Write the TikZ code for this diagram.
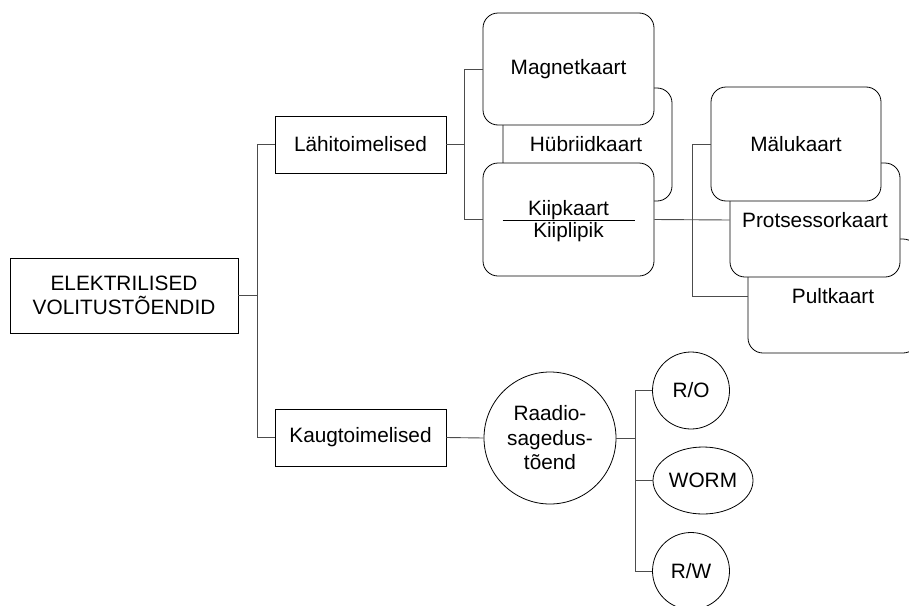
\documentclass[tikz,border=0pt]{standalone}
\usepackage{fontspec}
\setmainfont{Liberation Sans}
\usetikzlibrary{shapes.geometric,calc}
\begin{document}
\begin{tikzpicture}[x=1pt,y=-1pt,
  every node/.style={font=\fontsize{20.8}{24.5}\selectfont, inner sep=0pt, align=center},
  box/.style={draw, line width=0.8pt, fill=white},
  card/.style={box, rounded corners=15pt, minimum width=171pt, minimum height=113pt},
  rect/.style={box, minimum width=171pt, minimum height=57pt},
  disc/.style={box, circle},
  link/.style={draw=black!70, line width=0.9pt}]
\clip (0,0) rectangle (909,605);

% root and first level
\node[box, minimum width=228pt, minimum height=75pt] (root) at (124,295.5) {ELEKTRILISED\\VOLITUSTÕENDID};
\node[rect] (lahi) at (360.5,144.5) {Lähitoimelised};
\node[rect] (kaug) at (360.5,437.5) {Kaugtoimelised};

% contact cards
\node[card, minimum width=169pt] (hybrid) at (587.5,144.5) {\hspace*{-3pt}Hübriidkaart};
\node[card, minimum height=112pt] (magnet) at (568.5,69) {Magnetkaart};
\node[card] (kiip) at (568.5,219.5) {};
\node[anchor=base] (kiipa) at ($(kiip.center)+(0,-4.5)$) {Kiipkaart};
\node[anchor=base] (kiipb) at ($(kiip.center)+(0,17.5)$) {Kiiplipik};
\draw[line width=0.8pt] ($(kiip.center)+(-66,0.5)$) -- ($(kiip.center)+(66,0.5)$);

% chip card kinds
\node[card, minimum width=170pt, minimum height=114pt] (pult) at (833,296) {Pultkaart};
\node[card, minimum width=170pt, minimum height=114pt] (proc) at (815,220) {Protsessorkaart};
\node[card, minimum width=170pt, minimum height=114pt] (malu) at (796,144) {Mälukaart};

% radio frequency branch
\node[disc, minimum size=132pt] (radio) at (550,438) {Raadio-\\sagedus-\\tõend};
\node[disc, minimum size=77pt] (ro) at (691,390.5) {R/O};
\node[box, ellipse, minimum width=100pt, minimum height=67pt] (worm) at (703,480.5) {WORM};
\node[disc, minimum size=77pt] (rw) at (691,571) {R/W};

% connectors
\draw[link] (root.east) -- ++(19,0) coordinate (rj);
\draw[link] (lahi.west) -| (rj) |- (kaug.west);
\draw[link] (lahi.east) -- ++(18.5,0) coordinate (lj);
\draw[link] (magnet.west) -| (lj) |- (kiip.west);
\draw[link] (kiip.east) -- coordinate[midway] (mj) (proc.west);
\draw[link] (malu.west) -| (mj) |- (pult.west);
\draw[link] (kaug.east) -- (radio.west);
\draw[link] (radio.east) -- ++(19,0) coordinate (qj);
\draw[link] (ro.west) -| (qj) |- (rw.west);
\draw[link] (worm.west) -- (worm.west -| qj);
\end{tikzpicture}
\end{document}
